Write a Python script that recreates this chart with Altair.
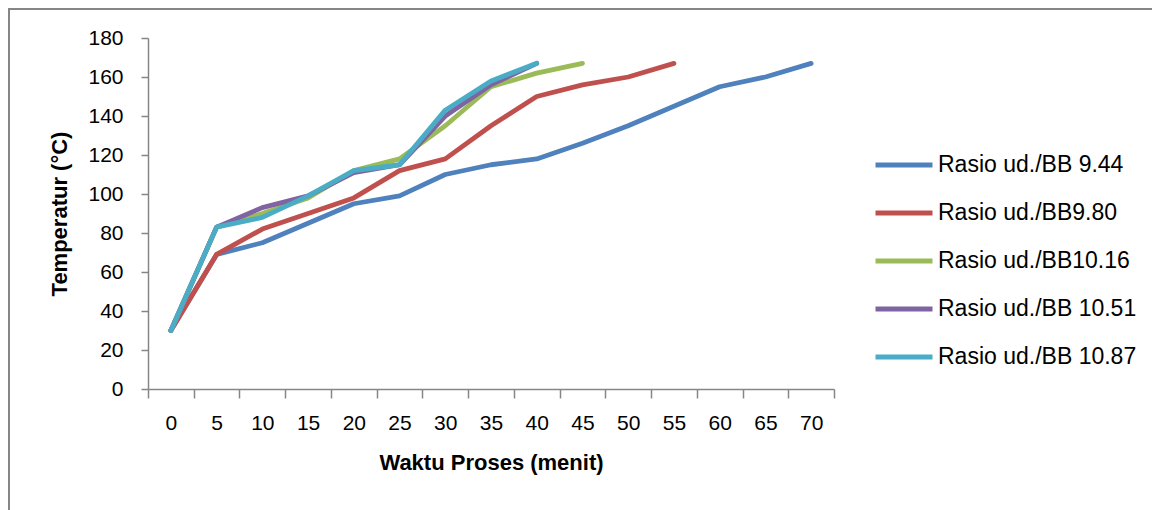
import altair as alt
import pandas as pd

times = [0, 5, 10, 15, 20, 25, 30, 35, 40, 45, 50, 55, 60, 65, 70]
series_names = ["Rasio ud./BB 9.44", "Rasio ud./BB9.80", "Rasio ud./BB10.16",
                "Rasio ud./BB 10.51", "Rasio ud./BB 10.87"]
colors = ["#4F81BD", "#C0504D", "#9BBB59", "#8064A2", "#4BACC6"]

s_944 = [30, 69, 75, 85, 95, 99, 110, 115, 118, 126, 135, 145, 155, 160, 167]
s_980 = [30, 69, 82, 90, 98, 112, 118, 135, 150, 156, 160, 167]
s_1016 = [30, 83, 90, 98, 112, 118, 135, 155, 162, 167]
s_1051 = [30, 83, 93, 99, 111, 115, 140, 156, 167]
s_1087 = [30, 83, 88, 99, 112, 115, 143, 158, 167]

rows = []
for name, vals in zip(series_names, [s_944, s_980, s_1016, s_1051, s_1087]):
    for t, v in zip(times, vals):
        rows.append({"t": t, "temp": v, "series": name})
df = pd.DataFrame(rows)

FONT = "Liberation Sans"
GRAY = "#868686"

lines = alt.Chart(df).mark_line(strokeWidth=4.8, strokeCap="round", strokeJoin="round").encode(
    x=alt.X("t:O",
            scale=alt.Scale(type="band", paddingInner=0, paddingOuter=0),
            axis=alt.Axis(title="Waktu Proses (menit)", labelAngle=0, tickBand="extent",
                          tickSize=9, tickColor=GRAY, domainColor=GRAY, domainWidth=1.5,
                          tickWidth=1.5, labelPadding=14, labelFontSize=21, labelFont=FONT,
                          labelColor="black", titleFont=FONT, titleFontSize=22,
                          titleFontWeight="bold", titleColor="black", titlePadding=19,
                          grid=False)),
    y=alt.Y("temp:Q",
            scale=alt.Scale(domain=[0, 180]),
            axis=alt.Axis(title="Temperatur (°C)", values=list(range(0, 181, 20)),
                          tickSize=7, tickColor=GRAY, domainColor=GRAY, domainWidth=1.5,
                          tickWidth=1.5, labelPadding=18, labelFontSize=21, labelFont=FONT,
                          labelColor="black", titleFont=FONT, titleFontSize=22,
                          titleFontWeight="bold", titleColor="black", titlePadding=16,
                          grid=False)),
    color=alt.Color("series:N",
                    scale=alt.Scale(domain=series_names, range=colors),
                    legend=alt.Legend(title=None, orient="none", legendX=725, legendY=96,
                                      symbolType="stroke", symbolSize=3249,
                                      symbolStrokeWidth=4.8, labelFontSize=23,
                                      labelFont=FONT, labelColor="black", labelOffset=3,
                                      rowPadding=5, labelLimit=400)),
    order=alt.Order("series_idx:Q"),
).transform_calculate(
    series_idx="indexof(" + str(series_names) + ", datum.series)"
)

border = alt.Chart(alt.Data(values=[{}])).mark_rect(
    fill=None, stroke=GRAY, strokeWidth=2
).encode(
    x=alt.value(-139), y=alt.value(-29), x2=alt.value(1200), y2=alt.value(700)
)

chart = alt.layer(border, lines).properties(
    width=686, height=351,
    autosize=alt.AutoSizeParams(type="none"),
    padding={"left": 140, "top": 30, "right": 318, "bottom": 121},
).configure_view(stroke=None)

chart.save("out.html", embed_options={"renderer": "svg", "actions": False})
